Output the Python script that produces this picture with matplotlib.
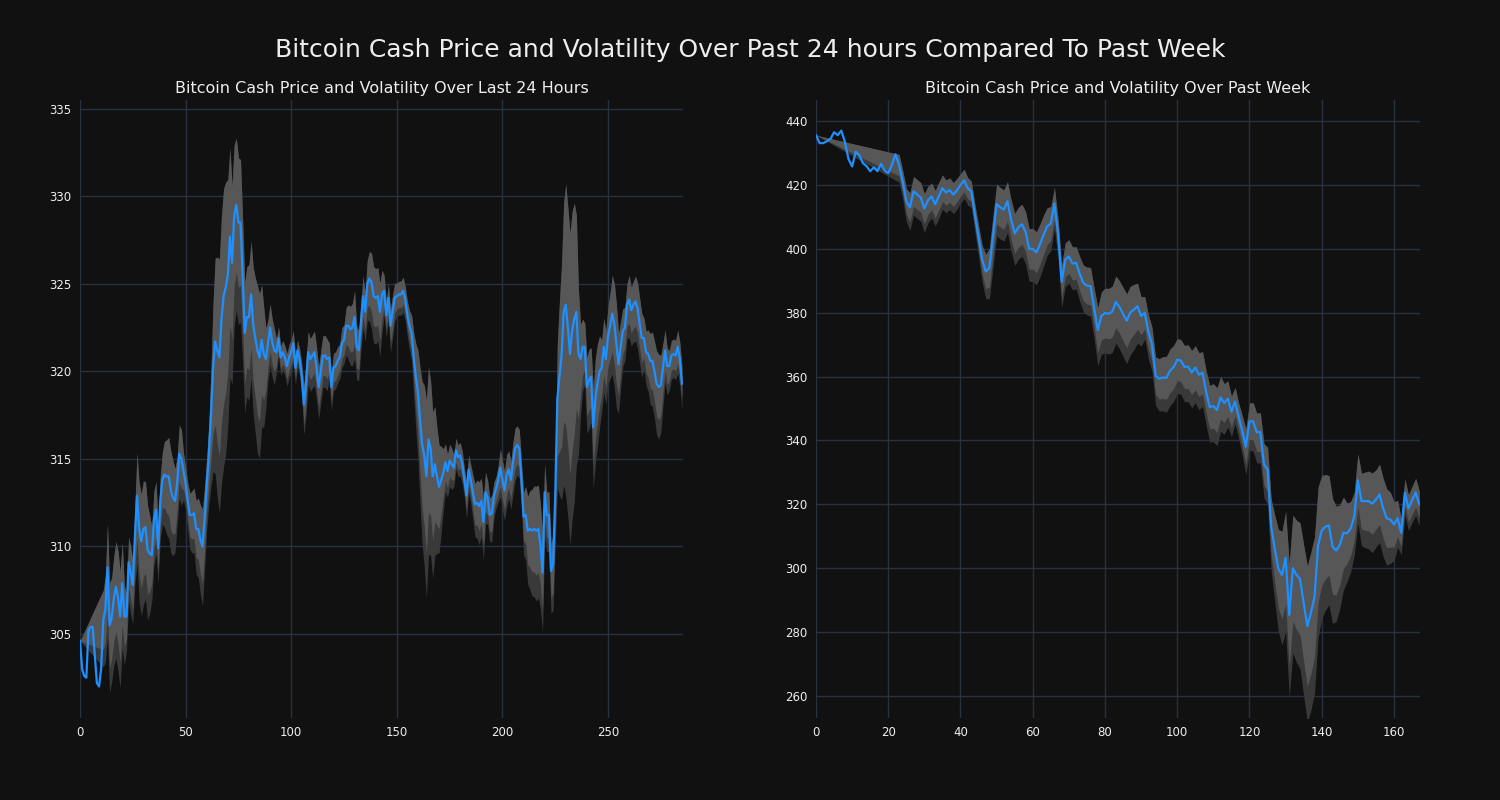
import numpy as np
import pandas as pd
import matplotlib
matplotlib.use("Agg")
import matplotlib.pyplot as plt

# ---------------- data ----------------
suptitle = "Bitcoin Cash Price and Volatility Over Past 24 hours Compared To Past Week"
title_day = "Bitcoin Cash Price and Volatility Over Last 24 Hours"
title_week = "Bitcoin Cash Price and Volatility Over Past Week"

price_day = [
    304.6, 303.0, 302.6, 302.5, 305.2, 305.4, 305.4, 303.8, 302.2, 302.0,
    303.0, 305.8, 306.4, 308.8, 305.5, 305.9, 307.0, 307.7, 307.1, 306.0,
    307.9, 306.0, 306.0, 309.1, 308.5, 307.8, 310.6, 312.9, 311.0, 310.3,
    311.0, 311.1, 309.8, 309.6, 309.5, 311.5, 312.1, 309.9, 312.6, 313.8,
    314.1, 314.0, 314.0, 313.2, 312.8, 312.6, 313.6, 315.3, 315.0, 314.3,
    313.6, 312.6, 311.8, 311.8, 311.9, 311.0, 311.0, 310.4, 310.0, 311.6,
    313.5, 315.2, 317.5, 320.2, 321.7, 321.2, 320.8, 323.0, 324.3, 324.8,
    325.5, 327.7, 326.2, 328.9, 329.5, 328.5, 328.5, 325.5, 322.2, 323.1,
    323.1, 324.4, 322.7, 321.9, 321.2, 320.8, 321.8, 321.0, 320.7, 321.6,
    322.5, 321.7, 321.2, 321.1, 321.9, 320.8, 321.1, 320.8, 320.3, 320.8,
    321.1, 321.6, 320.2, 321.2, 320.7, 319.7, 318.1, 319.3, 321.1, 320.7,
    320.9, 321.1, 320.2, 319.1, 320.0, 320.9, 320.9, 320.7, 320.8, 319.1,
    320.2, 320.3, 320.6, 320.8, 321.6, 321.8, 322.6, 322.6, 322.4, 322.5,
    323.1, 321.4, 321.2, 322.8, 324.3, 323.4, 325.0, 325.3, 325.1, 324.3,
    324.2, 324.3, 323.4, 324.4, 324.6, 323.2, 324.2, 322.6, 323.4, 324.2,
    324.3, 324.4, 324.4, 324.6, 324.1, 323.2, 322.6, 322.2, 320.8, 319.7,
    318.8, 317.2, 315.8, 315.2, 314.0, 316.1, 315.6, 314.0, 314.7, 314.0,
    313.4, 313.8, 314.2, 314.8, 314.3, 314.9, 314.7, 314.5, 315.5, 315.1,
    315.2, 314.7, 313.8, 312.9, 314.4, 313.8, 313.1, 312.4, 312.5, 312.3,
    312.6, 311.4, 313.1, 312.8, 311.8, 311.9, 312.9, 313.3, 313.8, 314.5,
    313.8, 313.2, 314.1, 314.4, 313.8, 314.8, 315.6, 315.8, 315.6, 313.8,
    311.7, 311.8, 310.9, 311.0, 310.9, 311.0, 310.9, 311.0, 310.1, 308.5,
    313.1, 311.8, 311.8, 308.6, 309.0, 312.9, 318.4, 319.7, 320.9, 323.4,
    323.8, 322.5, 321.0, 322.3, 323.0, 323.4, 321.0, 320.7, 321.4, 321.4,
    319.1, 319.5, 319.7, 316.8, 318.4, 319.3, 320.0, 320.2, 321.4, 320.7,
    322.0, 322.6, 323.3, 322.7, 321.5, 320.4, 321.4, 322.3, 322.5, 323.8,
    324.1, 323.5, 323.8, 324.0, 323.6, 322.7, 321.9, 321.9, 321.1, 321.0,
    320.6, 320.6, 320.0, 319.3, 319.1, 319.2, 320.2, 321.2, 320.3, 320.3,
    320.9, 321.0, 320.9, 321.4, 320.7, 319.3,
]

price_week = [
    435.6, 433.1, 433.1, 433.7, 434.4, 436.5, 435.6, 437.0, 433.5, 428.1,
    425.8, 430.4, 429.3, 426.8, 425.9, 424.3, 425.5, 424.3, 426.6, 424.5,
    423.7, 426.2, 429.6, 426.2, 421.1, 414.9, 413.0, 418.0, 417.0, 416.1,
    412.6, 415.2, 416.4, 414.0, 416.5, 419.0, 417.6, 418.4, 417.0, 418.3,
    420.0, 421.4, 419.0, 418.0, 410.5, 403.5, 396.6, 392.9, 394.1, 404.2,
    414.0, 413.0, 412.3, 414.9, 409.2, 404.8, 406.7, 407.7, 405.4, 400.0,
    400.0, 398.9, 401.4, 404.4, 407.1, 407.9, 414.2, 404.8, 389.7, 396.6,
    397.6, 395.4, 395.6, 392.2, 389.3, 388.5, 388.3, 381.5, 374.6, 379.0,
    379.9, 379.7, 380.3, 383.4, 381.8, 379.6, 377.5, 380.0, 381.0, 382.0,
    379.0, 380.0, 374.0, 370.2, 360.3, 359.3, 359.7, 359.6, 361.8, 363.0,
    365.3, 365.0, 363.0, 363.1, 361.3, 362.8, 360.6, 361.2, 355.2, 350.4,
    350.8, 349.5, 353.4, 351.7, 353.1, 349.0, 352.2, 347.5, 343.0, 338.1,
    346.0, 346.0, 342.6, 342.6, 332.5, 331.0, 313.0, 306.1, 299.8, 297.9,
    303.3, 285.4, 300.0, 297.9, 296.6, 289.1, 281.9, 286.0, 291.0, 307.3,
    311.8, 313.0, 313.4, 306.7, 305.5, 307.3, 311.1, 310.9, 312.4, 316.2,
    327.5, 321.0, 321.0, 321.0, 320.2, 321.5, 323.1, 318.7, 315.6, 315.2,
    313.7, 315.6, 311.1, 323.7, 318.7, 321.2, 323.7, 320.0,
]

day_ticks = [0, 50, 100, 150, 200, 250]
day_yticks = [305, 310, 315, 320, 325, 330, 335]
week_ticks = [0, 20, 40, 60, 80, 100, 120, 140, 160]
week_yticks = [260, 280, 300, 320, 340, 360, 380, 400, 420, 440]

# ---------------- style ----------------
BG = "#111111"
GRID = "#283142"
LINE = "#1e90ff"
LIGHT = "#575757"
DARK = "#393939"
TXT = "#eeeeee"


def draw(ax, values, window, k1, k2, title, xt, yt, xlim, ylim):
    s = pd.Series(values, dtype=float)
    x = np.arange(len(s))
    std = s.rolling(window).std()
    valid = std.notna().to_numpy()
    valid[0] = True
    std_v = std.fillna(0.0).to_numpy()[valid]
    xv = x[valid]
    pv = s.to_numpy()[valid]
    hi = pv + k1 * std_v
    mid = pv - k1 * std_v
    lo = mid - k2 * std_v
    ax.fill_between(xv, lo, hi, color=DARK, lw=0, zorder=1)
    ax.fill_between(xv, mid, hi, color=LIGHT, lw=0, zorder=2)
    ax.plot(x, s.to_numpy(), color=LINE, lw=1.6, zorder=3)
    ax.set_facecolor(BG)
    ax.set_title(title, color=TXT, fontsize=11.5, pad=5)
    ax.set_xticks(xt)
    ax.set_yticks(yt)
    ax.set_xlim(*xlim)
    ax.set_ylim(*ylim)
    ax.grid(True, color=GRID, lw=1.0, zorder=0)
    ax.set_axisbelow(True)
    for sp in ax.spines.values():
        sp.set_visible(False)
    ax.tick_params(colors=TXT, labelsize=8.5, length=0, pad=6)


fig = plt.figure(figsize=(15, 8), dpi=100, facecolor=BG)
ax1 = fig.add_axes([80 / 1500, 82 / 800, 603 / 1500, 618 / 800])
ax2 = fig.add_axes([816 / 1500, 82 / 800, 604 / 1500, 618 / 800])

draw(ax1, price_day, 12, 1.2, 0.7, title_day, day_ticks, day_yticks,
     (0, 285.5), (300.2, 335.5))
draw(ax2, price_week, 24, 0.75, 0.45, title_week, week_ticks, week_yticks,
     (0, 167.2), (253.1, 446.6))

fig.suptitle(suptitle, color=TXT, fontsize=18, y=0.9375, va="center")
fig.savefig("out.png", dpi=100, facecolor=BG)
